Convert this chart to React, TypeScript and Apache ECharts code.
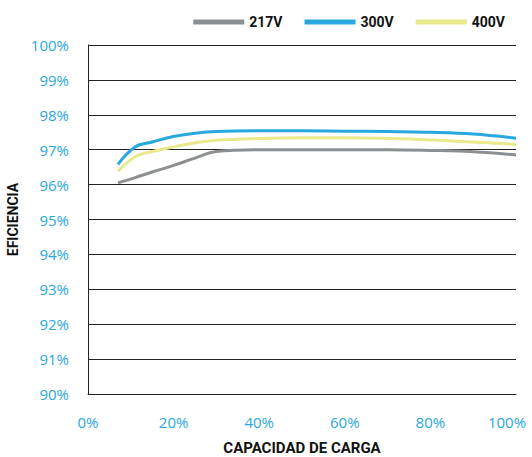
import React, { useEffect, useRef } from "react";
import * as echarts from "echarts";

const loadPct = [7, 11, 15, 20, 25, 30, 40, 50, 60, 70, 80, 90, 100];
const eff217 = [96.05, 96.2, 96.36, 96.55, 96.76, 96.95, 97.0, 97.0, 97.0, 97.0, 96.98, 96.94, 96.85];
const eff300 = [96.58, 97.08, 97.22, 97.38, 97.47, 97.52, 97.54, 97.54, 97.53, 97.52, 97.5, 97.45, 97.33];
const eff400 = [96.38, 96.8, 96.95, 97.08, 97.2, 97.27, 97.32, 97.34, 97.34, 97.32, 97.28, 97.22, 97.15];
const seriesNames = ["217V", "300V", "400V"];
const seriesColors = ["#8d9093", "#29a8e0", "#e8e88c"];
const xTicks = [0, 20, 40, 60, 80, 100];

export default function App() {
  const ref = useRef<HTMLDivElement>(null);
  useEffect(() => {
    const chart = echarts.init(ref.current!, null, { renderer: "svg" });
    const allData = [eff217, eff300, eff400];
    chart.setOption({
      animation: false,
      backgroundColor: "#ffffff",
      legend: {
        top: 10,
        right: 22,
        itemWidth: 51,
        itemHeight: 5,
        itemGap: 22,
        icon: "rect",
        textStyle: { fontFamily: "Roboto", fontWeight: "bold", fontSize: 14, color: "#111" },
        data: seriesNames,
      },
      grid: { left: 88, right: 16, top: 45, bottom: 63, containLabel: false, outerBoundsMode: "none" },
      xAxis: {
        type: "value",
        min: xTicks[0],
        max: xTicks[xTicks.length - 1],
        interval: 20,
        name: "CAPACIDAD DE CARGA",
        nameLocation: "middle",
        nameGap: 46,
        nameTextStyle: { fontFamily: "Roboto", fontWeight: "bold", fontSize: 15, color: "#111" },
        axisLine: { show: true, lineStyle: { color: "#222", width: 1 } },
        axisTick: { show: false },
        splitLine: { show: false },
        axisLabel: {
          margin: 20,
          fontFamily: "Open Sans",
          fontSize: 15,
          color: "#29a8e0",
          formatter: (v: number) => (v === 100 ? "{r|" + v + "%}" : v + "%"),
          rich: { r: { padding: [0, 18, 0, 0], fontFamily: "Open Sans", fontSize: 15, color: "#29a8e0" } },
        },
      },
      yAxis: {
        type: "value",
        min: 90,
        max: 100,
        interval: 1,
        name: "EFICIENCIA",
        nameLocation: "middle",
        nameGap: 68,
        nameRotate: 90,
        nameTextStyle: { fontFamily: "Roboto", fontWeight: "bold", fontSize: 14, color: "#111" },
        axisLine: { show: true, lineStyle: { color: "#222", width: 1 } },
        axisTick: { show: false },
        splitLine: { show: true, lineStyle: { color: "#222", width: 1 } },
        axisLabel: {
          margin: 19,
          fontFamily: "Open Sans",
          fontSize: 15,
          color: "#29a8e0",
          formatter: (v: number) => v + "%",
        },
      },
      series: seriesNames.map((name, i) => ({
        name,
        type: "line",
        smooth: 0.4,
        showSymbol: false,
        symbol: "none",
        color: seriesColors[i],
        lineStyle: { width: 3, color: seriesColors[i] },
        data: loadPct.map((x, j) => [x, allData[i][j]]),
      })),
    });
    return () => chart.dispose();
  }, []);
  return <div ref={ref} style={{ width: 532, height: 457, position: "absolute", left: 0, top: 0 }} />;
}
